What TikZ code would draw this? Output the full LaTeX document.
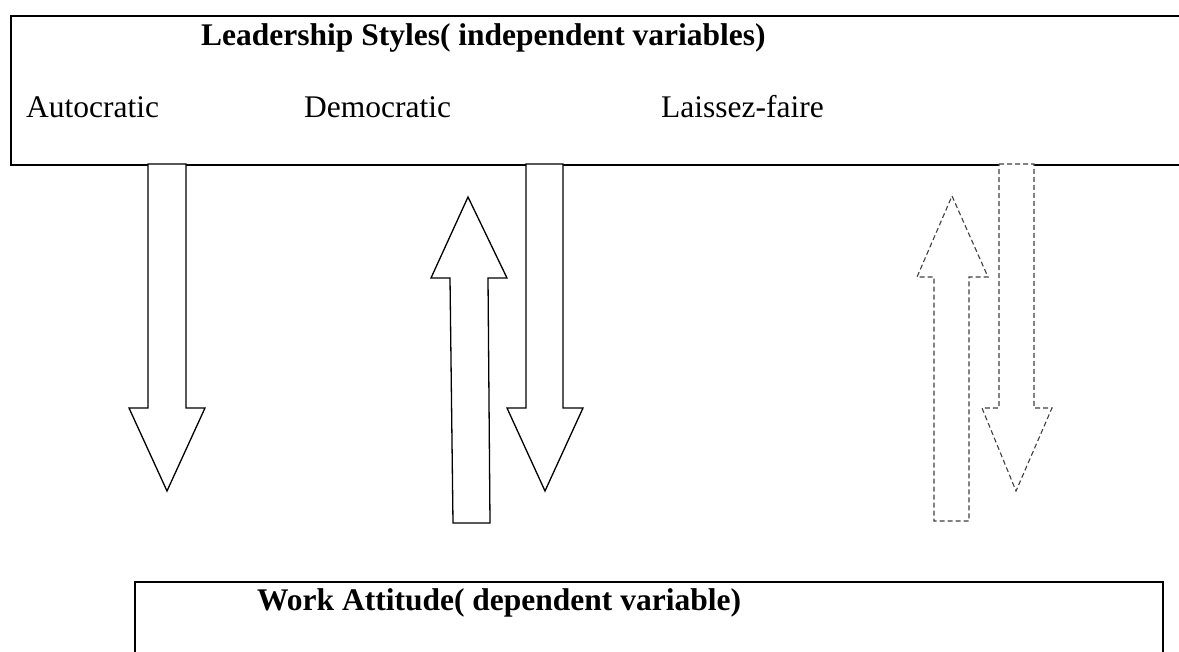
\documentclass[tikz,border=0pt]{standalone}
\usepackage{fontspec}
\setmainfont{Liberation Serif}
\begin{document}
\begin{tikzpicture}[x=1pt,y=-1pt,
  lbl/.style={anchor=base west,inner sep=0pt,font=\fontsize{31.5}{38}\selectfont},
  ttl/.style={lbl,font=\fontsize{31.5}{38}\selectfont\bfseries},
  boxline/.style={line width=1.8pt,line cap=rect},
  solidarrow/.style={draw=black,fill=white,line width=1.3pt,line join=miter},
  dasharrow/.style={draw=black!75,fill=white,line width=1.1pt,dash pattern=on 5pt off 3pt,line join=miter}]
\useasboundingbox (0,0) rectangle (1179,652);
\clip (0,0) rectangle (1179,652);
% top box (open on the right)
\draw[boxline] (1185,16) -- (11,16) -- (11,165) -- (1185,165);
% bottom box (open at the bottom)
\draw[boxline] (135,660) -- (135,582) -- (1163,582) -- (1163,660);
% texts
\node[ttl] (title) at (201,46) {Leadership Styles( independent variables)};
\node[lbl] (auto) at (26,118) {Autocratic};
\node[lbl] (demo) at (304,118) {Democratic};
\node[lbl] (lais) at (661,118) {Laissez-faire};
\node[ttl] (work) at (257,610) {Work Attitude( dependent variable)};
% arrows
\draw[solidarrow] (148,164) -- (186,164) -- (186,408) -- (205,408) -- (167,491) -- (129,408) -- (148,408) -- cycle;
\draw[solidarrow] (468,197) -- (507,278) -- (488,278) -- (490,523) -- (453,523) -- (450,278) -- (431,278) -- cycle;
\draw[solidarrow] (526,164) -- (563,164) -- (563,408) -- (583,408) -- (545,491) -- (507,408) -- (526,408) -- cycle;
\draw[dasharrow] (952,196) -- (988,277) -- (969,277) -- (969,521) -- (934,521) -- (934,277) -- (917,277) -- cycle;
\draw[dasharrow] (999,164) -- (1034,164) -- (1034,408) -- (1052,408) -- (1016,491) -- (982,408) -- (999,408) -- cycle;
\end{tikzpicture}
\end{document}
